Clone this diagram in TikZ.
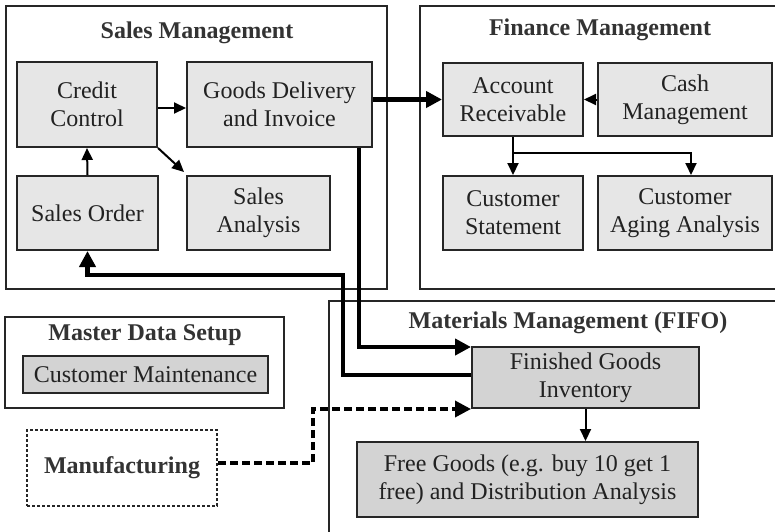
\documentclass[tikz,border=0pt]{standalone}
\usepackage{fontspec}
\setmainfont{Liberation Serif}
\usetikzlibrary{arrows.meta}
\definecolor{txt}{HTML}{222222}
\definecolor{ttl}{HTML}{333333}
\definecolor{lightbox}{HTML}{E6E6E6}
\definecolor{darkbox}{HTML}{D3D3D3}
\begin{document}
\begin{tikzpicture}[x=1pt,y=-1pt,
  font=\fontsize{24}{28}\selectfont,
  box/.style={draw=black!85,line width=2pt,fill=lightbox,text=txt,align=center,inner sep=0pt},
  dbox/.style={box,fill=darkbox},
  frame/.style={draw=black!85,line width=2pt},
  title/.style={font=\fontsize{24}{28}\selectfont\bfseries,text=ttl,inner sep=0pt},
  arr/.style={line width=2pt,-{Triangle[length=12pt,width=11pt]}},
  tarr/.style={line width=4.5pt,-{Triangle[length=16pt,width=16pt]}},
  darr/.style={line width=3.5pt,dash pattern=on 8pt off 4pt,-{Triangle[length=16pt,width=16pt]}}]
\useasboundingbox (0,0) rectangle (775,531);
\clip (0,0) rectangle (775,531);
\fill[white] (0,0) rectangle (775,531);
% outer frames
\draw[frame] (6,6) rectangle (387,289);
\draw[frame] (420,6) rectangle (790,289);
\draw[frame] (5,317) rectangle (284,408);
\draw[frame] (329,301) rectangle (790,545);
\node[title] (tsm) at (197,33) {Sales Management};
\node[title] (tfm) at (600,30) {Finance Management};
\node[title] (tmd) at (145,335) {Master Data Setup};
\node[title] (tmm) at (568,323) {Materials Management (FIFO)};
% sales
\node[box,minimum width=140pt,minimum height=85pt] (cc) at (87,104.5) {Credit\\Control};
\node[box,minimum width=185pt,minimum height=85pt] (gd) at (279.5,104.5) {Goods Delivery\\and Invoice};
\node[box,minimum width=141pt,minimum height=74pt] (so) at (87.5,213) {Sales Order};
\node[box,minimum width=143pt,minimum height=74pt] (sa) at (258.5,213) {Sales\\Analysis};
% finance
\node[box,minimum width=140pt,minimum height=73pt] (ar) at (513,99.5) {Account\\Receivable};
\node[box,minimum width=174pt,minimum height=73pt] (cm) at (685,99.5) {Cash\\Management};
\node[box,minimum width=140pt,minimum height=74pt] (cs) at (513,213) {Customer\\Statement};
\node[box,minimum width=174pt,minimum height=74pt] (ca) at (685,213) {Customer\\Aging Analysis};
% master data
\node[dbox,minimum width=245pt,minimum height=37pt] (cmt) at (145.5,374.5) {Customer Maintenance};
% manufacturing
\node[draw=black!85,line width=2pt,dash pattern=on 3pt off 2pt,text=ttl,font=\fontsize{24}{28}\selectfont\bfseries,minimum width=190pt,minimum height=76pt,inner sep=0pt] (mf) at (122,468) {Manufacturing};
% materials
\node[dbox,minimum width=227pt,minimum height=61pt] (fg) at (585.5,377.5) {Finished Goods\\Inventory};
\node[dbox,minimum width=341pt,minimum height=75pt] (fr) at (527.5,479.5) {Free Goods (e.g. buy 10 get 1\\free) and Distribution Analysis};
% coordinates
\coordinate (j) at (514,153);
\coordinate (r1) at (343,275);
\coordinate (d1) at (313,409);
% connectors
\draw[arr] ([yshift=-3.5pt]cc.east) -- ([yshift=-3.5pt]gd.west);
\draw[arr] (cc.south east) -- ([xshift=-2pt,yshift=3pt]sa.north west);
\draw[arr] (so.north) -- (cc.south);
\draw[arr] (cm.west) -- (ar.east);
\draw[arr] (ar.south) -- (cs.north);
\draw[arr] (j) -| ([xshift=6pt]ca.north);
\draw[arr] (fg.south) -- (fg.south |- fr.north);
\draw[tarr] (gd.east |- ar.west) -- (ar.west);
\draw[tarr] ([xshift=-14pt]gd.south east) |- ([yshift=-1pt]fg.north west);
\draw[tarr] ([yshift=2.5pt]fg.west) -| (r1) -| (so.south);
\draw[darr] ([yshift=5pt]mf.east) -| (d1) -- (d1 -| fg.west);
\end{tikzpicture}
\end{document}
